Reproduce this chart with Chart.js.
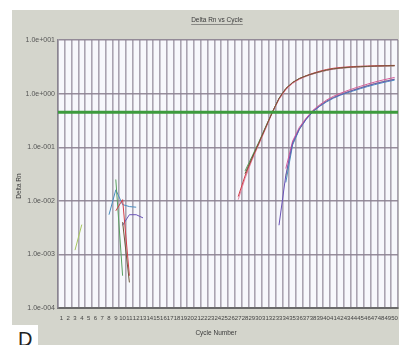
<!DOCTYPE html>
<html>
<head>
<meta charset="utf-8">
<script src="https://cdn.jsdelivr.net/npm/chart.js@4/dist/chart.umd.min.js"></script>
<style>
  html, body { margin: 0; padding: 0; background: #fff; }
  #wrap { position: relative; width: 399px; height: 345px; overflow: hidden; }
  #panel { position: absolute; left: 12px; top: 10px; width: 387px; height: 335px; background: #d4d5cc; }
  #tag { position: absolute; left: 0; top: 325px; width: 38px; height: 20px; background: #fff; }
  #tag span { position: absolute; left: 18px; top: 3px; line-height: 20px;
              font: 20px "Liberation Sans", Arial, sans-serif; color: #222; }
  canvas { position: absolute; left: 0; top: 0; }
</style>
</head>
<body>
<div id="wrap">
  <div id="panel"></div>
  <div id="tag"><span>D</span></div>
  <canvas id="amp" width="399" height="345"></canvas>
</div>
<script>
// Cycle numbers along the x axis
const cycles = ['1','2','3','4','5','6','7','8','9','10',
                '11','12','13','14','15','16','17','18','19','20',
                '21','22','23','24','25','26','27','28','29','30',
                '31','32','33','34','35','36','37','38','39','40',
                '41','42','43','44','45','46','47','48','49','50'];

// Decade ticks of the Delta Rn axis and their printed form
const rnTicks = [1e-4, 1e-3, 1e-2, 1e-1, 1, 10];
const rnTickLabels = ['1.0e-004', '1.0e-003', '1.0e-002', '1.0e-001', '1.0e+000', '1.0e+001'];

// Detection threshold
const threshold = 0.45;

// Delta Rn per cycle (null = not positive, so not shown on the log axis)
const wellA1 = [null, null, null, null, null, null, null, null, null, 0.004,
                0.0003, null, null, null, null, null, null, null, null, null,
                null, null, null, null, null, null, null, 0.032, 0.062, 0.118,
                0.23, 0.44, 0.82, 1.25, 1.62, 1.92, 2.15, 2.36, 2.56, 2.75,
                2.9, 3.0, 3.08, 3.14, 3.18, 3.22, 3.25, 3.28, 3.3, 3.32];
const wellA2 = [null, null, null, null, null, null, null, null, 0.0065, 0.0105,
                0.0004, null, null, null, null, null, null, null, null, null,
                null, null, null, null, null, null, 0.012, 0.029, 0.06, 0.115,
                0.225, 0.45, 0.8, 1.22, 1.6, 1.9, 2.16, 2.4, 2.62, 2.82,
                2.97, 3.07, 3.14, 3.2, 3.24, 3.27, 3.3, 3.32, 3.34, 3.36];
const wellA3 = [null, null, null, null, null, null, null, null, null, null,
                null, null, null, null, null, null, null, null, null, null,
                null, null, null, null, null, null, 0.0105, 0.026, 0.056, 0.11,
                0.215, 0.43, 0.78, 1.18, 1.55, 1.85, 2.1, 2.32, 2.52, 2.7,
                2.85, 2.96, 3.04, 3.1, 3.15, 3.19, 3.22, 3.25, 3.27, 3.3];
const wellA4 = [null, null, null, null, null, null, null, null, 0.025, 0.0004,
                null, null, null, null, null, null, null, null, null, null,
                null, null, null, null, null, null, null, 0.036, 0.066, 0.122,
                0.235, 0.445, 0.81, 1.23, 1.6, 1.9, 2.13, 2.34, 2.54, 2.72,
                2.88, 2.98, 3.06, 3.12, 3.17, 3.21, 3.24, 3.27, 3.29, 3.31];
const wellB1 = [null, null, null, null, null, null, null, null, null, 0.0035,
                0.0055, 0.0055, 0.0048, null, null, null, null, null, null, null,
                null, null, null, null, null, null, null, null, null, null,
                null, null, 0.0035, 0.03, 0.12, 0.22, 0.335, 0.47, 0.59, 0.72,
                0.84, 0.95, 1.06, 1.17, 1.28, 1.4, 1.52, 1.63, 1.74, 1.85];
const wellB2 = [null, null, null, null, null, null, null, null, null, null,
                null, null, null, null, null, null, null, null, null, null,
                null, null, null, null, null, null, null, null, null, null,
                null, null, null, 0.04, 0.13, 0.235, 0.35, 0.49, 0.62, 0.76,
                0.89, 1.01, 1.13, 1.25, 1.37, 1.5, 1.63, 1.76, 1.88, 2.0];
const wellB3 = [null, null, null, null, null, null, null, 0.0055, 0.016, 0.0085,
                0.0078, 0.0076, null, null, null, null, null, null, null, null,
                null, null, null, null, null, null, null, null, null, null,
                null, null, null, 0.022, 0.11, 0.215, 0.33, 0.46, 0.58, 0.7,
                0.82, 0.93, 1.03, 1.13, 1.24, 1.35, 1.46, 1.57, 1.68, 1.78];
const wellB4 = [null, null, 0.0012, 0.0036, null, null, null, null, null, null,
                null, null, null, null, null, null, null, null, null, null,
                null, null, null, null, null, null, null, null, null, null,
                null, null, null, 0.028, 0.115, 0.22, 0.34, 0.475, 0.6, 0.73,
                0.85, 0.96, 1.07, 1.18, 1.29, 1.41, 1.53, 1.64, 1.75, 1.86];

const wells = [
  { name: 'A1', data: wellA1, color: '#6e5a3c' },
  { name: 'A2', data: wellA2, color: '#d2404a' },
  { name: 'A3', data: wellA3, color: '#e58aa8' },
  { name: 'A4', data: wellA4, color: '#5aa060' },
  { name: 'B1', data: wellB1, color: '#6a52b8' },
  { name: 'B2', data: wellB2, color: '#d65a9a' },
  { name: 'B3', data: wellB3, color: '#4a8ec0' },
  { name: 'B4', data: wellB4, color: '#a8c860' }
];

const FONT = '"Liberation Sans", Arial, sans-serif';

// Plot background, threshold line and the chart's captions
const decor = {
  id: 'decor',
  beforeDraw(chart) {
    const { ctx, chartArea: a } = chart;
    ctx.save();
    ctx.fillStyle = '#f7f8fc';
    ctx.fillRect(a.left, a.top, a.right - a.left, a.bottom - a.top);
    ctx.restore();
  },
  afterDatasetsDraw(chart) {
    const { ctx, chartArea: a, scales } = chart;
    const y = scales.y.getPixelForValue(threshold);
    ctx.save();
    ctx.strokeStyle = '#3d9b3d';
    ctx.lineWidth = 3;
    ctx.beginPath();
    ctx.moveTo(a.left, y);
    ctx.lineTo(a.right, y);
    ctx.stroke();
    ctx.restore();
  },
  afterDraw(chart) {
    const { ctx, chartArea: a } = chart;
    const cx = a.left + 159;
    ctx.save();
    ctx.fillStyle = '#3a3a3a';
    ctx.font = '6.5px ' + FONT;
    ctx.textAlign = 'center';
    ctx.textBaseline = 'middle';
    ctx.fillText('Delta Rn vs Cycle', cx, 20);
    const w = ctx.measureText('Delta Rn vs Cycle').width;
    ctx.strokeStyle = '#555';
    ctx.lineWidth = 0.6;
    ctx.beginPath();
    ctx.moveTo(cx - w / 2, 24.5);
    ctx.lineTo(cx + w / 2, 24.5);
    ctx.stroke();
    ctx.fillText('Cycle Number', cx - 1, 333);
    ctx.translate(19, 186);
    ctx.rotate(-Math.PI / 2);
    ctx.fillText('Delta Rn', 0, 0);
    ctx.restore();
  }
};

new Chart(document.getElementById('amp'), {
  type: 'line',
  data: {
    labels: cycles,
    datasets: wells.map(w => ({
      label: w.name,
      data: w.data,
      borderColor: w.color,
      borderWidth: 1,
      pointRadius: 0,
      tension: 0,
      spanGaps: false
    }))
  },
  options: {
    responsive: false,
    animation: false,
    devicePixelRatio: 1,
    layout: { padding: { top: 40, right: 1, left: 0, bottom: 0 } },
    plugins: { legend: { display: false }, tooltip: { enabled: false }, title: { display: false } },
    scales: {
      x: {
        type: 'category',
        offset: true,
        grid: { offset: true, color: 'rgba(150,142,158,0.8)', lineWidth: 1.6, drawTicks: false },
        border: { display: true, color: '#6a6a6a', width: 2 },
        ticks: { autoSkip: false, maxRotation: 0, minRotation: 0, padding: 7,
                 color: '#444', font: { family: FONT, size: 6 } },
        afterFit(scale) {
          scale.height = 37;
          scale.paddingLeft = 0;
          scale.paddingRight = 0;
        }
      },
      y: {
        type: 'logarithmic',
        min: 1e-4,
        max: 10,
        afterBuildTicks(scale) { scale.ticks = rnTicks.map(v => ({ value: v })); },
        grid: { color: 'rgba(140,130,145,0.9)', lineWidth: 1.4, drawTicks: false },
        border: { display: true, color: '#8a8490', width: 1.5 },
        ticks: {
          padding: 3,
          color: '#555',
          font: { family: FONT, size: 7 },
          callback: v => rnTickLabels[rnTicks.indexOf(v)] ?? ''
        },
        afterFit(scale) {
          scale.width = 58;
          scale.paddingTop = 0;
          scale.paddingBottom = 0;
        }
      }
    }
  },
  plugins: [decor]
});
</script>
</body>
</html>
